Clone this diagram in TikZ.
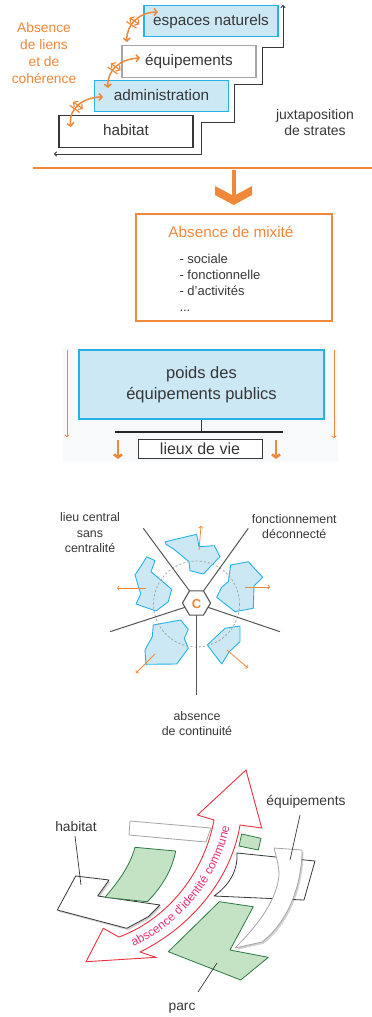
\documentclass[tikz,border=0pt]{standalone}
\usepackage{fontspec}
\setmainfont{Liberation Sans}
\usetikzlibrary{arrows.meta,decorations.markings,decorations.text,shadows}

\definecolor{orng}{RGB}{240,136,58}
\definecolor{skyfill}{RGB}{204,232,245}
\definecolor{skyline}{RGB}{38,178,230}
\definecolor{ink}{RGB}{55,55,55}
\definecolor{spoke}{RGB}{85,85,85}
\definecolor{boxgray}{RGB}{165,165,165}
\definecolor{leaf}{RGB}{196,226,196}
\definecolor{leafline}{RGB}{45,120,70}
\definecolor{redline}{RGB}{232,50,64}
\definecolor{pinktext}{RGB}{228,50,120}
\definecolor{bgtint}{RGB}{248,249,250}

\newcommand{\fsz}[2]{\fontsize{#1}{#2}\selectfont}

\begin{document}
\begin{tikzpicture}[x=1pt,y=-1pt,
  stratum/.style={minimum width=134pt, minimum height=31.5pt, inner sep=0pt,
    line width=1.2pt, text=ink, font=\fsz{15.3}{18}, text height=11pt, text depth=3pt},
  skybox/.style={draw=skyline, fill=skyfill},
  link/.style={orng, line width=1.5pt,
    {Straight Barb[length=3pt,width=7pt]}-{Straight Barb[length=3pt,width=7pt]},
    postaction={decorate},
    decoration={markings, mark=at position 0.42 with {
      \draw[orng, line width=1.2pt] (-3,-6) -- (-1.8,6) (1.8,-6) -- (3,6);}}},
  thinarrow/.style={orng, line width=0.8pt, -{To[length=2.5pt,width=5pt]}},
  fatarrow/.style={orng, line width=2.6pt, -{Straight Barb[length=3pt,width=8pt]}},
  blob/.style={fill=skyfill, draw=skyline, line width=0.9pt, line join=round},
  spokeline/.style={spoke, line width=1pt},
  lbl/.style={text=ink, inner sep=0pt},
  sheet/.style={fill=white, line width=0.8pt, line join=round},
  greenpart/.style={fill=leaf, draw=leafline, line width=0.8pt, line join=round},
  leader/.style={ink, line width=0.7pt},
  soft/.style={drop shadow={shadow xshift=1.5pt, shadow yshift=-1.8pt, opacity=0.3, fill=black!60}}
]
\useasboundingbox (0,0) rectangle (372,1017);

% ---------- strata ----------
\node[stratum, skybox] (espaces) at (211,21) {espaces naturels};
\node[stratum, draw=boxgray, fill=white] (equip) at (189,61.5) {équipements};
\node[stratum, skybox] (admin) at (161.5,96) {administration};
\node[stratum, draw=ink, fill=white] (habitat) at (126,131.5) {habitat};

% staircase outline
\draw[ink, line width=1pt, {To[length=3pt,width=5pt]}-{To[length=3pt,width=5pt]}]
  (54,154) -- (201,154) -- (201,122) -- (234,122) -- (234,84) -- (262,84)
  -- (262,47) -- (283,47) -- (283,5);

% broken links between strata
\draw[link] (71,127) .. controls (68,108) and (84,97) .. (103,97);
\draw[link] (108,88) .. controls (107,70) and (120,59) .. (140,58);
\draw[link] (127,42) .. controls (126,24) and (140,12) .. (158,12);

\node[lbl, text=orng, font=\fsz{13.8}{17.2}, align=center, anchor=north] (liens) at (44,21.8)
  {Absence\\de liens\\et de\\cohérence};
\node[lbl, font=\fsz{14}{15.7}, align=center, anchor=north] (juxta) at (315,109.3)
  {juxtaposition\\de strates};

\draw[orng, line width=1.2pt] (33,168) -- (372,168);

% ---------- consequence ----------
\fill[orng] (231.5,170) rectangle (236,196);
\fill[orng] (215,186) -- (233.75,196) -- (252,186) -- (252,195) -- (233.75,205) -- (215,195) -- cycle;

\node[draw=orng, line width=1.2pt, minimum width=196pt, minimum height=107pt, inner sep=0pt] (mixite) at (234,267.5) {};
\node[lbl, text=orng, font=\fsz{15.3}{18}, anchor=base] (mixtitle) at (231,237.3) {Absence de mixité};
\node[lbl, font=\fsz{13}{16.1}, align=left, anchor=north west] (mixlist) at (179.3,254)
  {- sociale\\- fonctionnelle\\- d'activités\\...};

% ---------- public facilities ----------
\fill[bgtint] (63,347) rectangle (338,462);
\node[draw=skyline, fill=skyfill, line width=1.5pt, minimum width=245pt, minimum height=69pt,
  inner sep=0pt, text=ink, font=\fsz{16.5}{20.5}, align=center] (poids) at (201.5,384.5)
  {poids des\\équipements publics};
\coordinate (barL) at (115,432);
\coordinate (barR) at (283,432);
\draw[ink, line width=0.8pt] (poids.south) -- (poids.south |- barL);
\draw[black!85, line width=1.7pt] (barL) -- (barR);
\node[draw=ink, fill=white, line width=1pt, minimum width=124pt, minimum height=19pt, inner sep=0pt,
  text=ink, font=\fsz{16}{18}, text height=11pt, text depth=0pt] (lieux) at (200,448.5) {lieux de vie};

\coordinate (sideLtop) at (67,350);  \coordinate (sideLend) at (67,437);
\coordinate (sideRtop) at (334,350); \coordinate (sideRend) at (334,438);
\draw[thinarrow] (sideLtop) -- (sideLend);
\draw[thinarrow] (sideRtop) -- (sideRend);
\coordinate (downLa) at (118,440); \coordinate (downLb) at (118,459);
\coordinate (downRa) at (276,440); \coordinate (downRb) at (276,459);
\draw[fatarrow] (downLa) -- (downLb);
\draw[fatarrow] (downRa) -- (downRb);

% ---------- central place without centrality ----------
\draw[blob] (165.3,541.7) -- (196.7,534.3) -- (199,546.7) -- (214.3,545.7) -- (220,556.7)
  -- (203.3,574) -- (190,570.7) -- (189,561.7) -- (174,549.3) -- (166,544.3) -- cycle;
\draw[blob] (146.7,556.7) -- (155,560.7) -- (151,571.7) -- (160.7,580) -- (171.7,589.3)
  -- (168.3,601.7) -- (156,611) -- (136,604) -- (140.7,594) -- (135,575) -- (141.7,565) -- cycle;
\draw[blob] (230.7,565) -- (248.3,561.7) -- (262.7,577.3) -- (254,586) -- (253.3,608.3)
  -- (235,611.7) -- (216.7,597.3) -- (221.7,587.3) -- (228.3,581.7) -- cycle;
\draw[blob] (153.3,625) -- (180.7,620) -- (188.3,629.3) -- (184.3,638.3) -- (188.3,648.3)
  -- (176.7,664) -- (146,664.3) -- (145,650) -- (152.3,636.7) -- cycle;
\draw[blob] (207.3,645) -- (225,628.3) -- (240,626) -- (240,641.7) -- (229.3,651.7)
  -- (221.7,664) -- cycle;

\draw[black!35, line width=0.8pt, dash pattern=on 2.2pt off 2pt] (196.5,604) circle[radius=43];

\coordinate (hTL) at (189.5,590.9);
\coordinate (hTR) at (203.5,590.9);
\coordinate (hL)  at (185,607.3);
\coordinate (hR)  at (208,607.3);
\coordinate (hB)  at (196.5,615.1);
\coordinate (sUL) at (143.3,528.3);
\coordinate (sUR) at (248.3,528.3);
\coordinate (sL)  at (110,631.7);
\coordinate (sR)  at (280,631.7);
\coordinate (sB)  at (196.5,695);
\draw[spokeline] (sUL) -- (hTL);
\draw[spokeline] (sUR) -- (hTR);
\draw[spokeline] (sL) -- (hL);
\draw[spokeline] (sR) -- (hR);
\draw[spokeline] (sB) -- (hB);
\draw[spoke, fill=white, line width=1.1pt, line join=round]
  (210.5,603) -- (203.5,590.9) -- (189.5,590.9) -- (182.5,603) -- (189.5,615.1) -- (203.5,615.1) -- cycle;
\node[lbl, text=orng, font=\fsz{13}{14}\bfseries] (centre) at (196.5,604) {C};

\draw[thinarrow] (199,550) -- (201,526);
\draw[thinarrow] (146,588) -- (117,588);
\draw[thinarrow] (245,587) -- (270,587);
\draw[thinarrow] (155,654) -- (136,673);
\draw[thinarrow] (227,650) -- (248,668);

\node[lbl, font=\fsz{12.4}{15.3}, align=center, anchor=north] (lieucentral) at (90,512.8)
  {lieu central\\sans\\centralité};
\node[lbl, font=\fsz{12.4}{14.6}, align=center, anchor=north] (deconnecte) at (294.3,514.4)
  {fonctionnement\\déconnecté};
\node[lbl, font=\fsz{12.4}{15}, align=center, anchor=north] (continuite) at (197,711.1)
  {absence\\de continuité};

% ---------- no shared identity ----------
\draw[sheet, draw=ink, soft] (75.7,876) -- (109,880) -- (97.7,896) -- (160,905)
  -- (148.3,916.7) -- (126.7,928.3) -- (57.3,910) -- cycle;
\draw[greenpart] (135,847.3) -- (175.7,851) .. controls (172,870) and (162,887) .. (147.3,901.7)
  -- (105,897.3) .. controls (118,882) and (130,866) .. (135,847.3) -- cycle;
\draw[sheet, draw=boxgray] (130,821) -- (211,828) -- (206,842) -- (129,835) -- cycle;
\draw[sheet, draw=ink] (237,853) -- (315,861) -- (304,900) -- (214,896)
  .. controls (228,886) and (238,872) .. (237,853) -- cycle;
\draw[greenpart] (241.7,834) -- (261,838.3) -- (258.3,850) -- (239,846) -- cycle;
\draw[sheet, draw=boxgray, soft] (274,848) -- (302,850) .. controls (302,885) and (288,922) .. (262,942)
  -- (235,948) .. controls (258,925) and (277,900) .. (279,875)
  .. controls (279,865) and (276,856) .. (274,848) -- cycle;
\draw[greenpart] (219.3,901.7) -- (253.3,906.7) -- (230,950) -- (268.3,957.3) -- (240.7,980)
  -- (168.3,951.7) -- cycle;

\draw[redline, line width=0.9pt, fill=white, line join=miter]
  (246,770) -- (261.7,828) -- (240,825) .. controls (232,875) and (195,925) .. (140,952)
  -- (156,957.3) -- (86,961.7) -- (103.3,928.3) -- (119,937)
  .. controls (170,918) and (205,870) .. (214,820) -- (197.5,815) -- cycle;
\path[decorate, decoration={text along path, text align=center,
  text={|\fsz{12}{12}\color{pinktext}|abscence d'identité commune}}]
  (131,948) .. controls (185,923) and (221,874) .. (230,824);

\node[lbl, font=\fsz{13.8}{16}, anchor=base] (lblhab) at (76,831) {habitat};
\node[lbl, font=\fsz{13.8}{16}, anchor=base] (lbleq) at (306,805) {équipements};
\node[lbl, font=\fsz{13.8}{16}, anchor=base] (lblparc) at (182,1010.7) {parc};
\coordinate (habA) at (75,836);   \coordinate (habB) at (81,885);
\coordinate (eqA) at (300,815);   \coordinate (eqB) at (290,860);
\coordinate (parcA) at (198,992); \coordinate (parcB) at (217,963);
\draw[leader] (habA) -- (habB);
\draw[leader] (eqA) -- (eqB);
\draw[leader] (parcA) -- (parcB);
\end{tikzpicture}
\end{document}
